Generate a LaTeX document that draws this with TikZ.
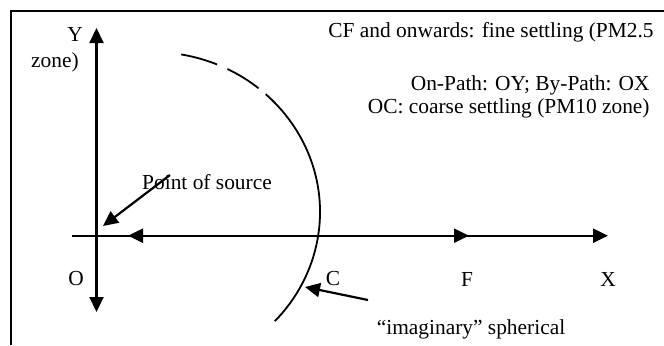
\documentclass[tikz,border=0pt]{standalone}
\usepackage{fontspec}
\setmainfont{Liberation Serif}
\usetikzlibrary{arrows.meta}
\tikzset{
    label/.style={
        inner sep=0pt,
        font=\fontsize{10.7}{12}\selectfont,
        text=black
    },
    axis/.style={
        line width=1.1pt,
        black
    },
    arrow/.style={
        -{Triangle[length=7.5pt, width=7pt]},
        line width=1.1pt,
        black
    },
    twoway/.style={
        {Triangle[length=7.5pt, width=7pt]}-{Triangle[length=7.5pt, width=7pt]},
        line width=1.1pt,
        black
    },
    sphere/.style={
        line width=0.9pt,
        black,
        dash pattern=on 18.7pt off 5.6pt on 18.4pt off 4.6pt on 400pt off 1pt
    }
}

\begin{document}
\begin{tikzpicture}[x=0.5pt, y=0.5pt]
    \useasboundingbox (0,0) rectangle (664,345);

    % Frame
    \draw[line width=1pt] (11,0) -- (11,334) -- (664,334);

    % Axes
    \coordinate (ytop) at (96.5,317);
    \coordinate (ybot) at (96.5,33);
    \coordinate (xleft) at (72,109.3);
    \coordinate (xright) at (608,109.3);
    \coordinate (back) at (128,109.3);
    \coordinate (fpt) at (469,109.3);
    \draw[twoway] (ybot) -- (ytop);
    \draw[arrow] (xleft) -- (xright);
    \draw[twoway] (back) -- (fpt);

    \node[label] (ylab) at (75,311) {Y};
    \node[label] (zone) at (55,283) {zone)};
    \node[label] (olab) at (76,66) {O};
    \node[label] (clab) at (333,66) {C};
    \node[label] (flab) at (467,66) {F};
    \node[label] (xlab) at (608,66) {X};

    % Notes
    \node[label, anchor=east] (cf) at (654,313) {CF and onwards: fine settling (PM2.5};
    \node[label, anchor=east] (path) at (650,260) {On-Path: OY; By-Path: OX};
    \node[label, anchor=east] (oc) at (650,237) {OC: coarse settling (PM10 zone)};

    % Source
    \node[label] (src) at (207,163) {Point of source};
    \coordinate (srctail) at (170,170);
    \coordinate (srctip) at (103,119);
    \draw[arrow] (srctail) -- (srctip);

    % Imaginary sphere
    \coordinate (ctr) at (152,133);
    \draw[sphere] ([shift={(80:84pt and 80pt)}]ctr)
        arc[start angle=80, end angle=-43, x radius=84pt, y radius=80pt];
    \node[label] (imag) at (471,16) {``imaginary'' spherical};
    \coordinate (imagtail) at (368,45);
    \coordinate (imagtip) at (305,58);
    \draw[arrow] (imagtail) -- (imagtip);
\end{tikzpicture}
\end{document}
